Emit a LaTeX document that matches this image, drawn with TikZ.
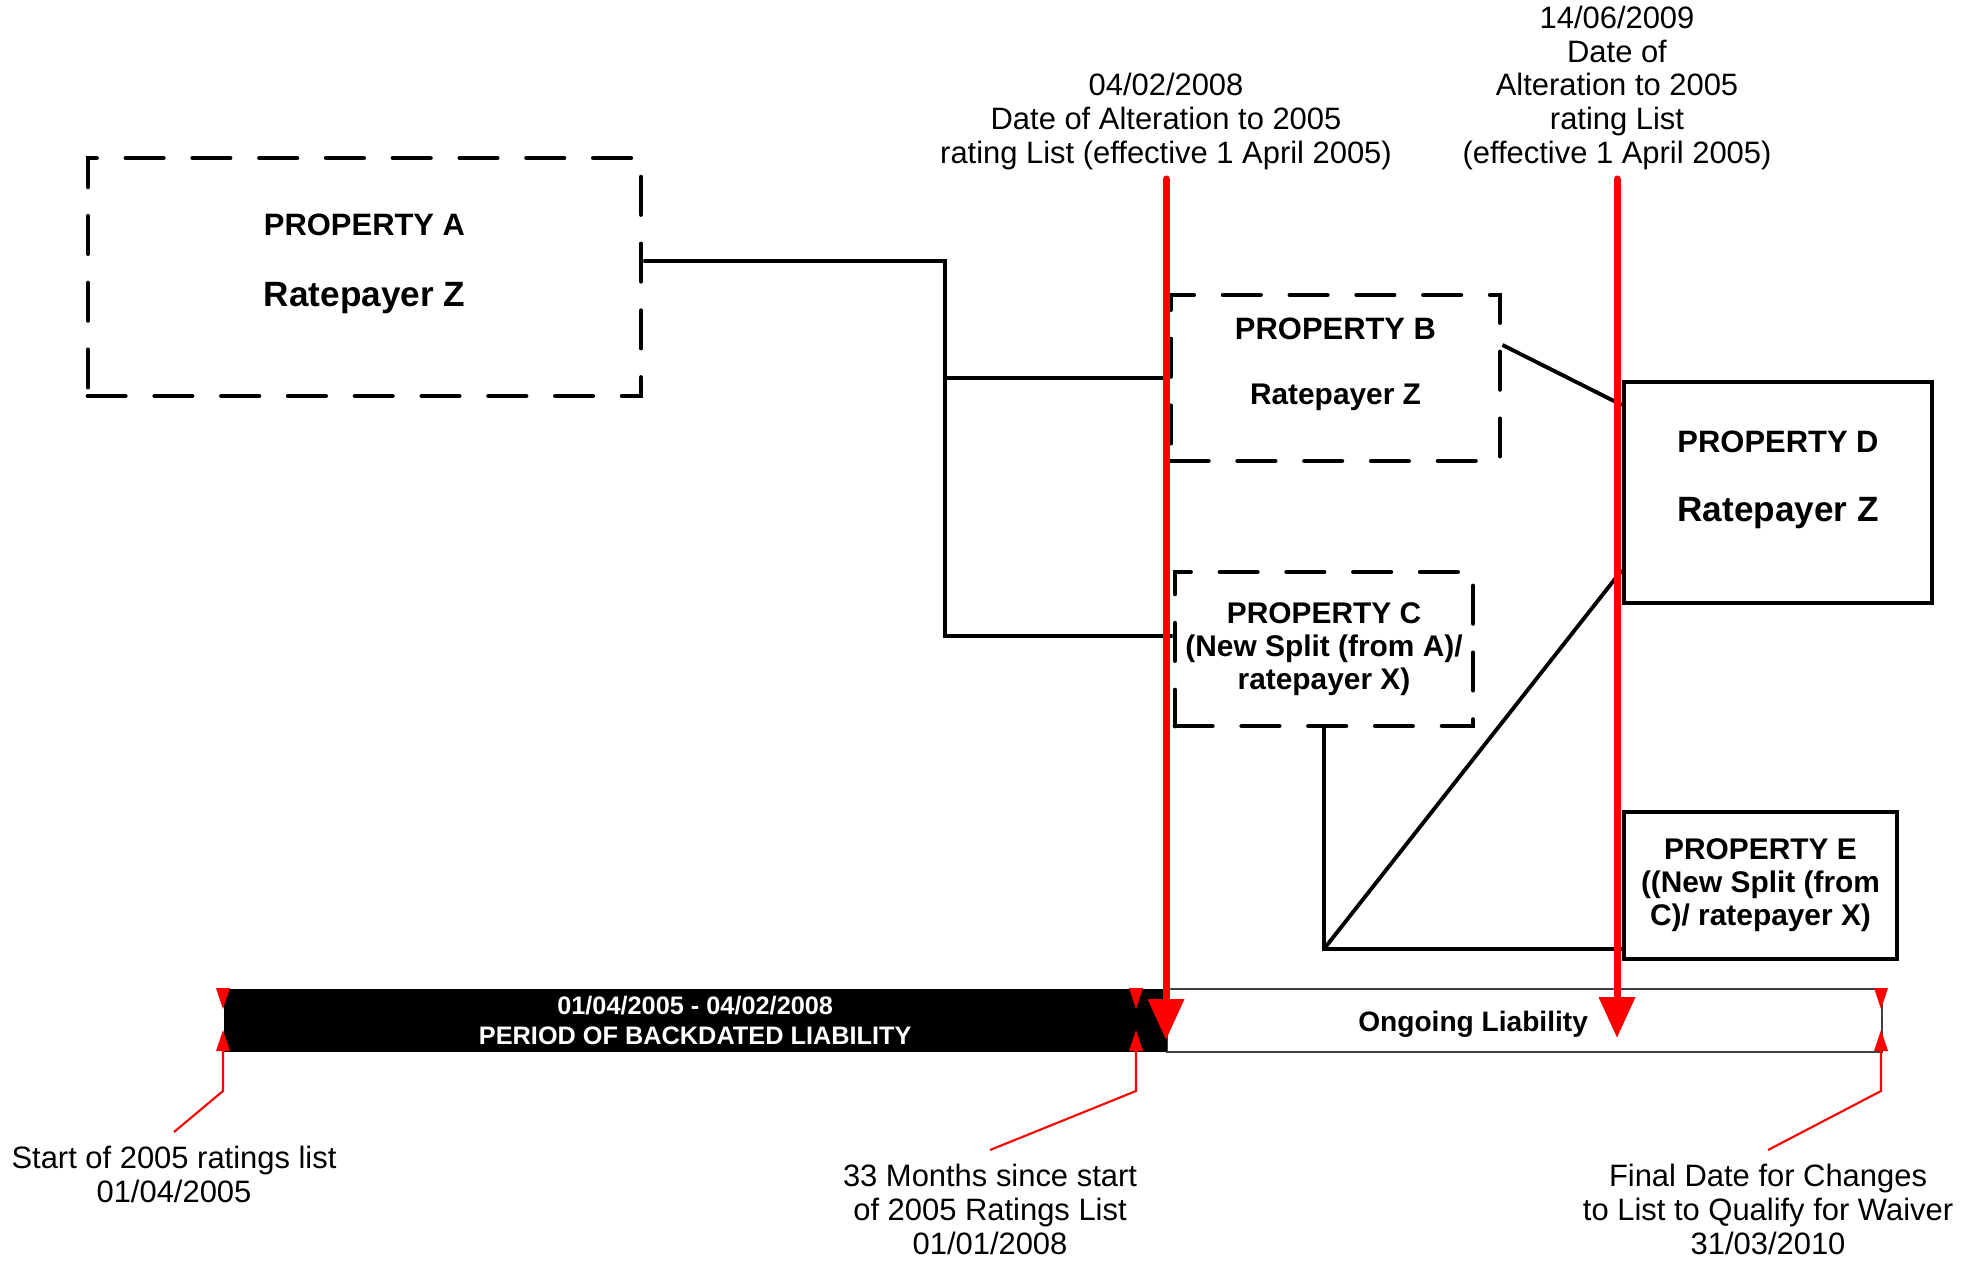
\documentclass[tikz,border=0pt]{standalone}
\usepackage{fontspec}
\setmainfont{Liberation Sans}
\usetikzlibrary{arrows.meta,positioning}

\begin{document}
\begin{tikzpicture}[
        prop/.style={draw,line width=1.4pt,line cap=round,dash pattern=on 10.6pt off 8.4pt,
            align=center,inner sep=0pt,font=\fontsize{8.8}{9.4}\selectfont\bfseries},
        newprop/.style={draw,line width=1.1pt,align=center,inner sep=0pt,
            font=\fontsize{8.8}{9.4}\selectfont\bfseries},
        split/.style={font=\fontsize{8.5}{9.4}\selectfont\bfseries},
        link/.style={line width=1.1pt},
        alter/.style={red,line width=2pt,line cap=round,-{Triangle[length=4.1mm,width=3.5mm]}},
        note/.style={align=center,inner sep=1pt,font=\fontsize{8.8}{9.6}\selectfont},
        leader/.style={red,line width=0.6pt}
    ]
    \useasboundingbox (0,0) rectangle (19.66,12.63);

    % properties before and after the alterations
    \node[prop,minimum width=5.53cm,minimum height=2.38cm] (propA) at (3.645,9.86)
        {PROPERTY A\\[3.8mm]{\fontsize{10}{12}\selectfont Ratepayer Z}\\};
    \node[prop,minimum width=3.29cm,minimum height=1.66cm] (propB) at (13.355,8.85)
        {PROPERTY B\\[3.2mm]{\fontsize{8.5}{9.4}\selectfont Ratepayer Z}\\};
    \node[prop,split,minimum width=2.98cm,minimum height=1.54cm] (propC) at (13.24,6.14)
        {PROPERTY C\\(New Split (from A)/\\ratepayer X)};
    \node[newprop,minimum width=3.08cm,minimum height=2.21cm] (propD) at (17.78,7.705)
        {PROPERTY D\\[3.6mm]{\fontsize{10}{12}\selectfont Ratepayer Z}\\};
    \node[newprop,split,minimum width=2.73cm,minimum height=1.47cm] (propE) at (17.605,3.775)
        {PROPERTY E\\((New Split (from\\C)/ ratepayer X)};

    % splits and merges
    \coordinate (fork) at (9.45,10.02);
    \draw[link] ([yshift=1.6mm]propA.east) -- (fork) |- ([yshift=1.3mm]propC.west);
    \draw[link] (fork |- propB.west) -- (propB.west);
    \draw[link] ([yshift=3.3mm]propB.east) -- ([yshift=-2.5mm]propD.north west);
    \draw[link] (propC.south) |- coordinate[pos=.5] (elbow) ([yshift=1.2mm]propE.south west);
    \draw[link] (elbow) -- ([yshift=3.5mm]propD.south west);

    % liability bar
    \node[draw=black!75,line width=0.6pt,minimum width=7.15cm,minimum height=0.63cm,
        inner sep=0pt,anchor=north west] (ongoing) at (11.66,2.75) {};
    \node[fill=black,minimum width=9.43cm,minimum height=0.63cm,inner sep=0pt,
        anchor=north west,text=white,align=center,
        font=\fontsize{7.2}{8.5}\selectfont\bfseries] (backdated) at (2.23,2.75)
        {01/04/2005 - 04/02/2008\\PERIOD OF BACKDATED LIABILITY};
    \node[font=\fontsize{8}{9}\selectfont\bfseries] (ongoingtext)
        at ([xshift=-5.15mm,yshift=-0.35mm]ongoing.center) {Ongoing Liability};

    % date marks on the bar
    \foreach \tk/\x in {start/2.23,months/11.36,final/18.81}{
        \fill[red] (\x-0.07,2.75) -- (\x+0.07,2.75) -- (\x,2.54) -- cycle;
        \fill[red] (\x-0.07,2.12) -- (\x+0.07,2.12) -- (\x,2.33) -- cycle;
        \coordinate (\tk) at (\x,2.12);
    }
    \node[note,anchor=north] (startnote) at (1.74,1.21)
        {Start of 2005 ratings list\\01/04/2005};
    \node[note,anchor=north] (monthsnote) at (9.90,1.03)
        {33 Months since start\\of 2005 Ratings List\\01/01/2008};
    \node[note,anchor=north] (finalnote) at (17.68,1.03)
        {Final Date for Changes\\to List to Qualify for Waiver\\31/03/2010};
    \draw[leader] (start) -- ++(0,-0.4) -- ([yshift=1mm]startnote.north);
    \draw[leader] (months) -- ++(0,-0.4) -- ([yshift=1mm]monthsnote.north);
    \draw[leader] (final) -- ++(0,-0.4) -- ([yshift=1mm]finalnote.north);

    % alterations to the list
    \coordinate (altAtop) at (11.66,10.84);
    \coordinate (altAend) at (11.66,2.23);
    \coordinate (altBtop) at (16.17,10.84);
    \coordinate (altBend) at (16.17,2.25);
    \draw[alter] (altAtop) -- (altAend);
    \draw[alter] (altBtop) -- (altBend);
    \node[note,above=0.5mm of altAtop] (altAnote)
        {04/02/2008\\Date of Alteration to 2005\\rating List (effective 1 April 2005)};
    \node[note,above=0.5mm of altBtop] (altBnote)
        {14/06/2009\\Date of\\Alteration to 2005\\rating List\\(effective 1 April 2005)};
\end{tikzpicture}
\end{document}
